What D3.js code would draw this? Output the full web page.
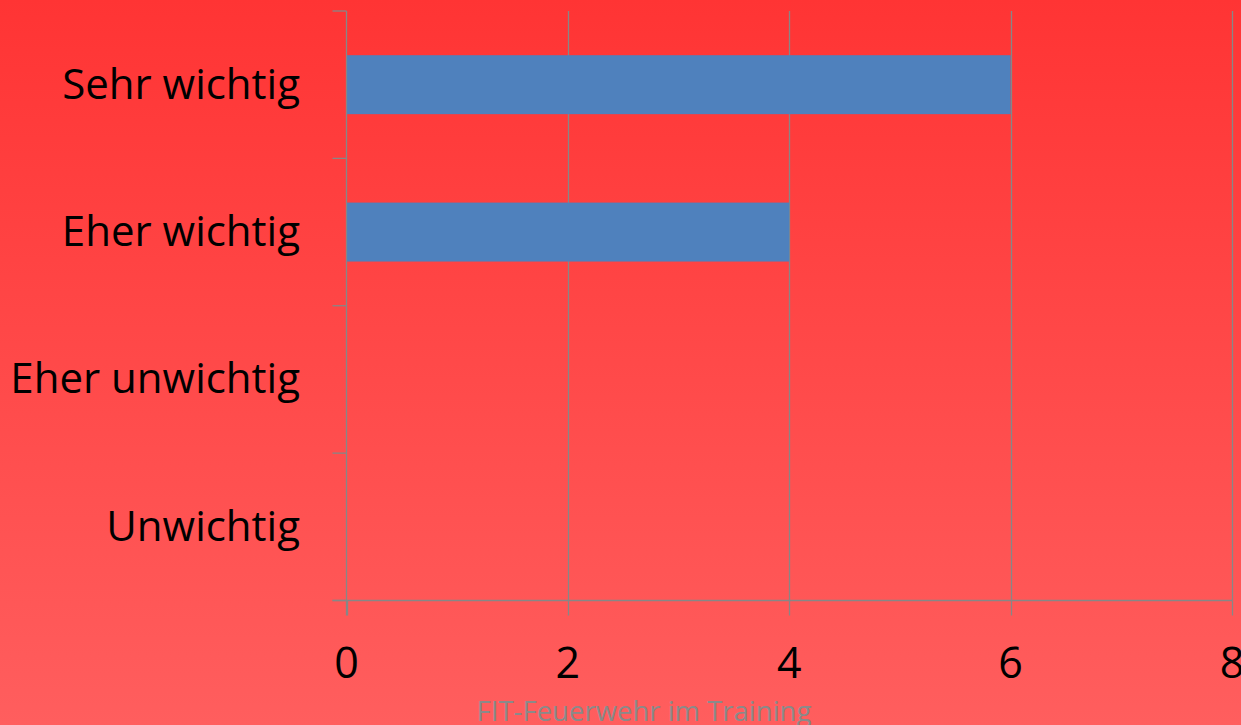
<!DOCTYPE html>
<html><head><meta charset="utf-8">
<script src="https://cdn.jsdelivr.net/npm/d3@7"></script>
<style>html,body{margin:0;padding:0;overflow:hidden;}svg{display:block;}</style>
</head><body>
<svg id="chart" width="1241" height="725"></svg>
<script>
const categories = ["Sehr wichtig", "Eher wichtig", "Eher unwichtig", "Unwichtig"];
const values = [6, 4, 0, 0];
const xTicks = [0, 2, 4, 6, 8];
const footer = "FIT-Feuerwehr im Training";

const svg = d3.select("#chart");
const W = 1241, H = 725;
const defs = svg.append("defs");
const grad = defs.append("linearGradient").attr("id","bg").attr("x1",0).attr("y1",0).attr("x2",0).attr("y2",1);
grad.append("stop").attr("offset","0%").attr("stop-color","#ff3434");
grad.append("stop").attr("offset","100%").attr("stop-color","#ff5e5e");
svg.append("rect").attr("width",W).attr("height",H).attr("fill","url(#bg)");

const pLeft = 346.5, pRight = 1232, pTop = 11, pBottom = 600.5;
const x = d3.scaleLinear().domain([0, 8]).range([pLeft, pRight]);
const y = d3.scaleBand().domain(categories).range([pTop, pBottom]).paddingInner(0.6).paddingOuter(0.3);
const yLine = d3.scaleLinear().domain([0, categories.length]).range([pTop, pBottom]);
const grey = "#878787";

// grid lines
svg.append("g").selectAll("line").data(xTicks.slice(1)).join("line")
  .attr("x1", d => Math.round(x(d)) + 0.5).attr("x2", d => Math.round(x(d)) + 0.5)
  .attr("y1", pTop).attr("y2", pBottom)
  .attr("stroke", grey).attr("stroke-width", 1.3);

// bars
svg.append("g").selectAll("rect").data(categories.map((c,i)=>({c, v: values[i]})).filter(d=>d.v>0)).join("rect")
  .attr("x", x(0)).attr("y", d => y(d.c))
  .attr("width", d => x(d.v) - x(0)).attr("height", y.bandwidth())
  .attr("fill", "#4f81bd");

// y axis
svg.append("line").attr("x1", pLeft).attr("x2", pLeft).attr("y1", pTop).attr("y2", pBottom + 15)
  .attr("stroke", grey).attr("stroke-width", 1.3);
svg.append("g").selectAll("line").data(d3.range(categories.length + 1)).join("line")
  .attr("x1", pLeft - 14).attr("x2", pLeft).attr("y1", d => yLine(d)).attr("y2", d => yLine(d))
  .attr("stroke", grey).attr("stroke-width", 1.3);

// x axis
svg.append("line").attr("x1", pLeft - 14).attr("x2", pRight).attr("y1", pBottom).attr("y2", pBottom)
  .attr("stroke", grey).attr("stroke-width", 1.3);
svg.append("g").selectAll("line").data(xTicks).join("line")
  .attr("x1", d => Math.round(x(d)) + 0.5).attr("x2", d => Math.round(x(d)) + 0.5)
  .attr("y1", pBottom).attr("y2", pBottom + 15)
  .attr("stroke", grey).attr("stroke-width", 1.3);

const font = "'Open Sans', sans-serif";
// category labels
svg.append("g").selectAll("text").data(categories).join("text")
  .attr("x", 300).attr("y", d => y(d) + y.bandwidth()/2 + 14)
  .attr("text-anchor","end")
  .attr("font-family", font).attr("font-size", 42).attr("fill","#000")
  .text(d => d);

// tick labels
svg.append("g").selectAll("text").data(xTicks).join("text")
  .attr("x", d => x(d)).attr("y", 678)
  .attr("text-anchor","middle")
  .attr("font-family", font).attr("font-size", 43).attr("fill","#000")
  .text(d => d);

svg.append("text").attr("x", 644).attr("y", 721).attr("text-anchor","middle")
  .attr("font-family", font).attr("font-size", 27.5).attr("fill", "#8a8a8a").text(footer);
</script>
</body></html>
